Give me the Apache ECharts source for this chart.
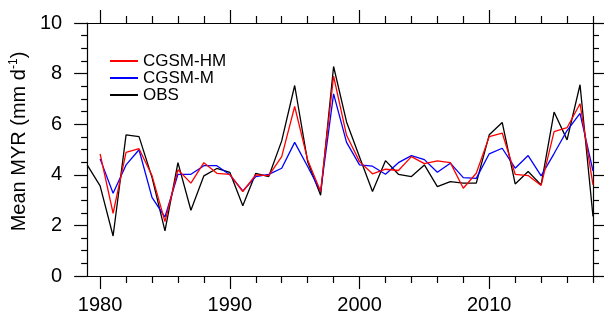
<!DOCTYPE html>
<html>
<head>
<meta charset="utf-8">
<script src="https://cdn.jsdelivr.net/npm/echarts@6/dist/echarts.min.js"></script>
<style>
html,body{margin:0;padding:0;background:#fff;}
#chart{width:604px;height:320px;}
</style>
</head>
<body>
<div id="chart"></div>
<script>
const years = [1979,1980,1981,1982,1983,1984,1985,1986,1987,1988,1989,1990,1991,1992,1993,1994,1995,1996,1997,1998,1999,2000,2001,2002,2003,2004,2005,2006,2007,2008,2009,2010,2011,2012,2013,2014,2015,2016,2017,2018];
const obs = [4.39,3.56,1.58,5.58,5.51,3.9,1.78,4.48,2.6,3.96,4.25,4.1,2.78,4.06,3.93,5.34,7.53,4.52,3.19,8.28,6.09,4.7,3.34,4.56,4.02,3.93,4.39,3.53,3.73,3.67,3.67,5.58,6.07,3.64,4.13,3.6,6.48,5.38,7.56,2.35];
const hm = [null,4.83,2.48,4.89,5.03,3.97,2.15,4.2,3.67,4.48,4.06,4.02,3.34,4.0,3.97,4.72,6.7,4.59,3.34,7.9,5.56,4.52,4.04,4.22,4.17,4.72,4.44,4.55,4.48,3.47,4.06,5.51,5.65,4.02,3.97,3.58,5.71,5.86,6.81,3.6];
const m = [null,4.63,3.27,4.39,4.99,3.11,2.33,4.02,4.02,4.36,4.36,4.0,3.36,3.93,4.02,4.26,5.28,4.33,3.34,7.2,5.28,4.39,4.34,4.02,4.48,4.76,4.6,4.1,4.46,3.89,3.86,4.83,5.05,4.26,4.76,3.96,4.84,5.75,6.43,4.15];
const xMajor = [1980,1990,2000,2010];
const xMinor = [1982,1984,1986,1988,1992,1994,1996,1998,2002,2004,2006,2008,2012,2014,2016,2018];
const yTicks = [0,2,4,6,8,10];

const pair = arr => years.map((y,i)=>[y,arr[i]]);
const font = "'Liberation Sans', Arial, Helvetica, sans-serif";

function xAx(pos, ticks, len, labels, line){
  return {
    type:'value', min:1979, max:2018, position:pos,
    axisLine:{show:line, lineStyle:{color:'#000', width:1.2}},
    axisTick:{show:true, customValues:ticks, length:len, inside:false, lineStyle:{color:'#000', width:1.2}},
    axisLabel:{show:labels, customValues:ticks, color:'#000', fontSize:20, fontFamily:font, margin:19,
      formatter: v => String(v)},
    splitLine:{show:false}
  };
}
function yAx(pos, labels){
  const a = {
    type:'value', min:0, max:10, interval:2, position:pos,
    axisLine:{show:true, lineStyle:{color:'#000', width:1.2}},
    axisTick:{show:true, length:13, inside:false, lineStyle:{color:'#000', width:1.2}},
    minorTick:{show:true, splitNumber:4, length:6, lineStyle:{color:'#000', width:1.2}},
    axisLabel:{show:labels, color:'#000', fontSize:20, fontFamily:font, margin:25},
    splitLine:{show:false}
  };
  if(labels){
    a.name = 'Mean MYR (mm d{sup|-1})';
    a.nameLocation = 'middle';
    a.nameGap = 51;
    a.nameTextStyle = {color:'#000', fontSize:20, fontFamily:font, padding:[0,0,0,16],
      rich:{sup:{fontSize:12, fontFamily:font, color:'#000', verticalAlign:'top', padding:[0,0,10,0]}}};
  }
  return a;
}

const chart = echarts.init(document.getElementById('chart'), null, {renderer:'canvas'});
chart.setOption({
  animation:false,
  backgroundColor:'#fff',
  grid:{left:87, right:11, top:23, bottom:44, containLabel:false},
  legend:{
    orient:'vertical', left:105, top:47, itemWidth:28, itemHeight:2, itemGap:-1,
    icon:'rect',
    textStyle:{color:'#000', fontSize:17, lineHeight:18, fontFamily:font},
    data:['CGSM-HM','CGSM-M','OBS']
  },
  xAxis:[
    xAx('bottom', xMajor, 13, true, true),
    xAx('bottom', xMinor, 7, false, false),
    xAx('top', xMajor, 13, false, true),
    xAx('top', xMinor, 7, false, false)
  ],
  yAxis:[yAx('left', true), yAx('right', false)],
  series:[
    {name:'CGSM-HM', type:'line', data:pair(hm), xAxisIndex:0, yAxisIndex:0, showSymbol:false, symbol:'none', lineStyle:{color:'#ff0000', width:1.3}, itemStyle:{color:'#ff0000'}, z:3},
    {name:'CGSM-M', type:'line', data:pair(m), xAxisIndex:0, yAxisIndex:0, showSymbol:false, symbol:'none', lineStyle:{color:'#0000ff', width:1.3}, itemStyle:{color:'#0000ff'}, z:2},
    {name:'OBS', type:'line', data:pair(obs), xAxisIndex:0, yAxisIndex:0, showSymbol:false, symbol:'none', lineStyle:{color:'#000000', width:1.3}, itemStyle:{color:'#000000'}, z:1}
  ]
});
</script>
</body>
</html>
